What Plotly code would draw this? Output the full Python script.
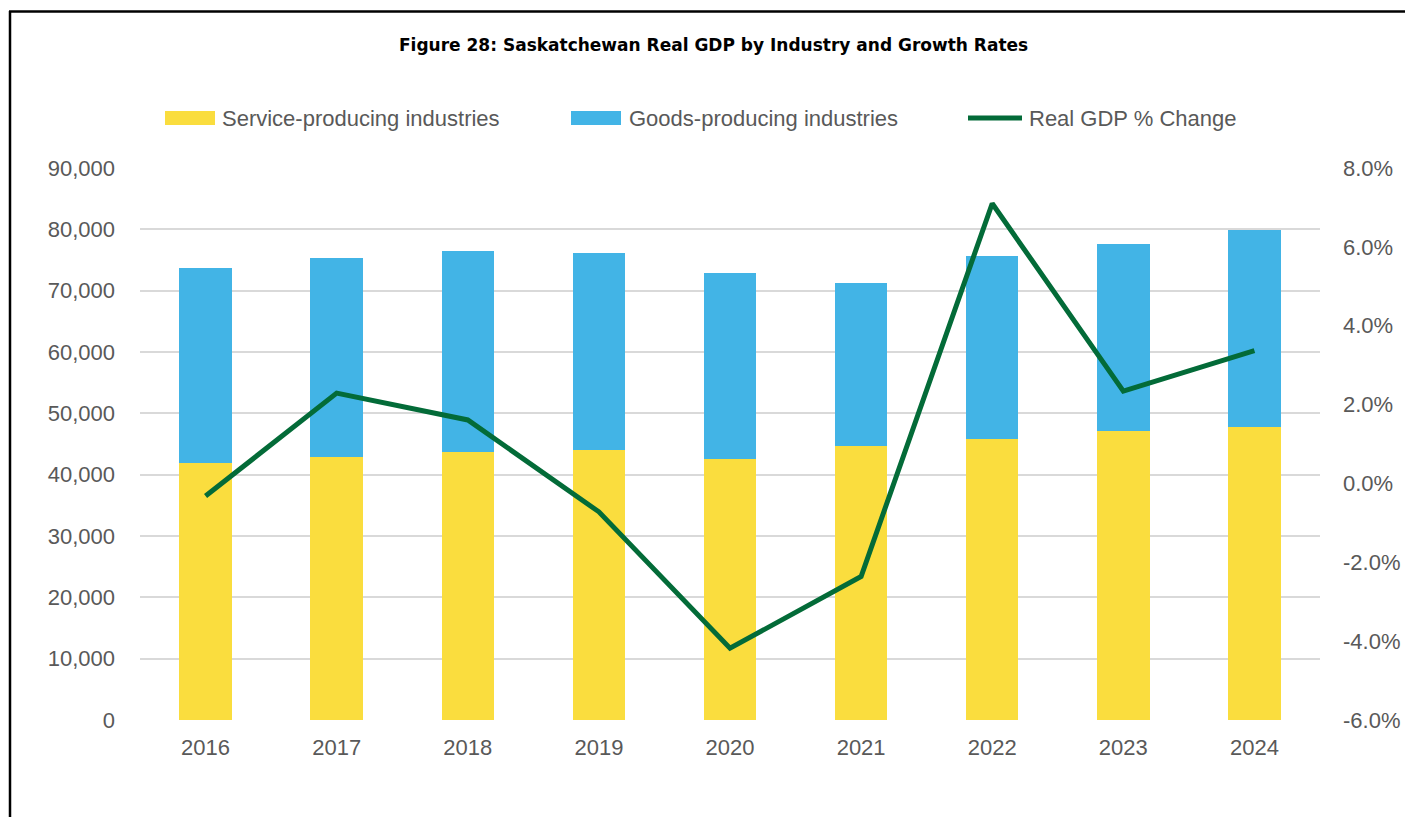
import plotly.graph_objects as go

years = ["2016", "2017", "2018", "2019", "2020", "2021", "2022", "2023", "2024"]
service = [41900, 42800, 43700, 44000, 42500, 44700, 45800, 47100, 47800]
goods = [31750, 32500, 32800, 32100, 30300, 26550, 29850, 30450, 32100]
gdp_change = [-0.32, 2.29, 1.61, -0.72, -4.18, -2.36, 7.10, 2.34, 3.37]

left_ticks = list(range(0, 90001, 10000))
right_ticks = [-6, -4, -2, 0, 2, 4, 6, 8]

W, H = 1405, 817
L, R, T, B = 140, 1320, 168, 720

YELLOW = "#FADD3E"
BLUE = "#42B4E6"
GREEN = "#036B38"
GREY_TXT = "#595959"
FONT = "Liberation Sans"


def px(x):
    return (x - L) / (R - L)


def py(y):
    return (B - y) / (B - T)


fig = go.Figure()
fig.add_trace(go.Bar(x=years, y=service, name="Service-producing industries",
                     marker=dict(color=YELLOW, line=dict(width=0)), yaxis="y"))
fig.add_trace(go.Bar(x=years, y=goods, name="Goods-producing industries",
                     marker=dict(color=BLUE, line=dict(width=0)), yaxis="y"))
fig.add_trace(go.Scatter(x=years, y=gdp_change, name="Real GDP % Change", mode="lines",
                         line=dict(color=GREEN, width=5), yaxis="y2"))

shapes = []
annotations = []

# Custom legend
legend_items = [
    (165, 215, "bar", YELLOW, "Service-producing industries", 220),
    (571, 621, "bar", BLUE, "Goods-producing industries", 627),
    (968, 1022, "line", GREEN, "Real GDP % Change", 1027),
]
ly = 118
for x0, x1, kind, col, label, tx in legend_items:
    if kind == "bar":
        shapes.append(dict(type="rect", xref="paper", yref="paper",
                           x0=px(x0), x1=px(x1), y0=py(ly + 7), y1=py(ly - 7),
                           fillcolor=col, line=dict(width=0)))
    else:
        shapes.append(dict(type="line", xref="paper", yref="paper",
                           x0=px(x0), x1=px(x1), y0=py(ly), y1=py(ly),
                           line=dict(color=col, width=5)))
    annotations.append(dict(text=label, xref="paper", yref="paper", x=px(tx), y=py(ly),
                            xanchor="left", yanchor="middle", showarrow=False,
                            font=dict(family=FONT, size=22, color=GREY_TXT)))

# Title
annotations.append(dict(text="<b>Figure 28: Saskatchewan Real GDP by Industry and Growth Rates</b>",
                        xref="paper", yref="paper", x=px(713), y=py(45),
                        xanchor="center", yanchor="middle", showarrow=False,
                        font=dict(family="DejaVu Sans", size=17, color="#000000")))

# Border (left and top)
shapes.append(dict(type="line", xref="paper", yref="paper",
                   x0=px(10), x1=px(10), y0=py(11), y1=py(817),
                   line=dict(color="#000000", width=2.5)))
shapes.append(dict(type="line", xref="paper", yref="paper",
                   x0=px(9), x1=px(1405), y0=py(11.5), y1=py(11.5),
                   line=dict(color="#000000", width=2.5)))

fig.update_layout(
    width=W, height=H,
    margin=dict(l=L, r=W - R, t=T, b=H - B, autoexpand=False),
    barmode="stack",
    bargap=0.6,
    showlegend=False,
    paper_bgcolor="white",
    plot_bgcolor="white",
    font=dict(family=FONT, size=22, color=GREY_TXT),
    xaxis=dict(type="category", showgrid=False, showline=False, ticks="",
               tickfont=dict(family=FONT, size=22, color=GREY_TXT),
               ticklabelstandoff=12),
    yaxis=dict(range=[0, 90000], tickvals=left_ticks, tickformat=",d",
               showgrid=True, gridcolor="#D9D9D9", gridwidth=2,
               zeroline=False, showline=False, ticks="",
               tickfont=dict(family=FONT, size=22, color=GREY_TXT),
               ticklabelstandoff=24),
    yaxis2=dict(range=[-6, 8], tickvals=right_ticks,
                ticktext=[f"{v:.1f}%" for v in right_ticks],
                overlaying="y", side="right", showgrid=False, zeroline=False,
                showline=False, ticks="",
                tickfont=dict(family=FONT, size=22, color=GREY_TXT),
                ticklabelstandoff=22),
    shapes=shapes,
    annotations=annotations,
)

fig.write_html("out.html", config={"displayModeBar": False},
               post_script="document.body.style.margin='0';")
